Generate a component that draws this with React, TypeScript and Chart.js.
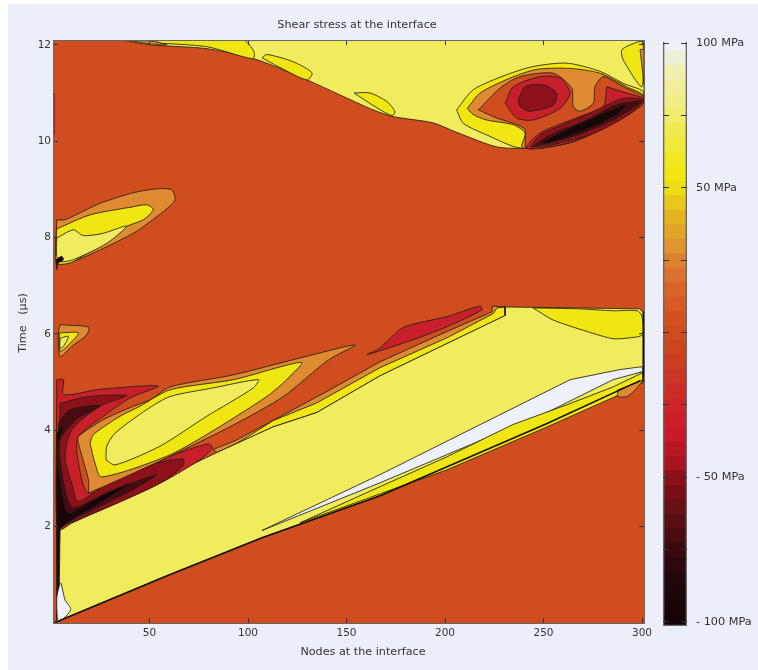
import React, { useEffect, useRef } from "react";
import { Chart, registerables } from "chart.js";

Chart.register(...registerables);

type P = number[];

const xTicks = [50, 100, 150, 200, 250, 300];
const yTicks = [2, 4, 6, 8, 10, 12];
const chartTitle = "Shear stress at the interface";
const xCaption = "Nodes at the interface";
const yCaption = "Time   (µs)";

const FIELD = "#cf4d1f";
const ORANGE = "#df8b32";
const BRIGHT = "#efe612";
const PALE = "#f1ec5e";
const WHITE = "#eef0fa";
const RED = "#c8202a";
const DARKRED = "#8e101b";
const DARKER = "#4a0a12";
const BLACK = "#1a0508";

const fieldRect: P[] = [[1, 0], [301, 0], [301, 12.1], [1, 12.1]];
const bandOrange: P[] = [[82.2, 3.6], [93.4, 3.78], [141.6, 4.84], [167, 5.42], [201, 6.05], [223.9, 6.46], [223.9, 6.58], [230.5, 6.56], [230.5, 6.38], [167, 5.13], [112.7, 4.07], [84.3, 3.54]];
const bandBright: P[] = [[93.4, 3.7], [112.7, 4.2], [135, 4.57], [167, 5.3], [201, 5.92], [224.4, 6.42], [226.4, 6.54], [230.5, 6.56], [230.5, 6.38], [167, 5.13], [135, 4.37], [112.7, 4.07]];
const bandPale: P[] = [[2, 0.01], [58.9, 0.98], [107.1, 1.77], [167, 2.64], [251.8, 4.14], [299, 5.03], [300.5, 5.26], [300.5, 6.44], [299, 6.52], [230.5, 6.56], [230.5, 6.38], [209.1, 5.96], [167, 5.13], [135, 4.37], [112.7, 4.07], [84.3, 3.54], [5.6, 2.0], [3, 1.94], [3, 0.07]];
const bandCorner: P[] = [[244.7, 6.54], [254.8, 6.29], [272.1, 6.05], [285.3, 5.9], [293.9, 5.92], [300, 5.98], [300, 6.36], [297.6, 6.48], [285.3, 6.48], [268.5, 6.52]];
const sliverBright: P[] = [[126.4, 2.08], [167, 2.83], [201, 3.45], [234.5, 4.12], [261.9, 4.53], [285.3, 4.9], [300.5, 5.2], [300.5, 4.99], [285.3, 4.68], [251.8, 4.07], [201, 3.18], [167, 2.68]];
const sliverWhite: P[] = [[107.1, 1.92], [167, 3.08], [263.5, 5.05], [288.8, 5.26], [300, 5.32], [300.5, 5.22], [285.3, 5.05], [251.8, 4.37], [167, 2.91]];
const speckOrange: P[] = [[287.8, 4.84], [297.5, 4.99], [300.5, 5.05], [297.5, 4.88], [292.4, 4.7], [287.8, 4.7]];
const sliverRed: P[] = [[160.4, 5.57], [167, 5.71], [178.7, 6.13], [201, 6.36], [217.8, 6.58], [218.8, 6.5], [201, 6.15], [183.8, 5.88], [167, 5.65]];

const redLeft: P[] = [[2.9, 5.05], [6.3, 5.05], [6.3, 4.74], [24.9, 4.85], [54.5, 4.92], [40.1, 4.67], [26.6, 4.29], [13.9, 3.87], [13.4, 3.46], [19, 2.7], [41.8, 3.11], [60.4, 3.46], [79.9, 3.72], [81.9, 3.63], [75.6, 3.39], [55.3, 2.9], [10.5, 2.07], [5.4, 1.94], [2.9, 1.94]];
const darkRedLeft: P[] = [[4.6, 4.56], [19, 4.7], [38.4, 4.72], [24.9, 4.5], [10.5, 4.01], [7.1, 3.46], [10.5, 2.9], [13.9, 2.52], [29.9, 2.94], [53.6, 3.32], [67.2, 3.4], [66.8, 3.25], [55.3, 2.9], [29.9, 2.42], [8.8, 2.07], [4.2, 2.0]];
const darkerLeft: P[] = [[3.7, 4.15], [9.6, 4.43], [24.9, 4.51], [13, 4.22], [4.6, 3.8], [5.4, 3.18], [8, 2.63], [11.3, 2.39], [29.9, 2.73], [53.6, 3.08], [41.8, 2.77], [24.9, 2.42], [8.8, 2.11], [3.7, 2.0]];
const blackLeft: P[] = [[2.9, 3.94], [6.3, 4.08], [3.7, 3.73], [3.7, 3.25], [6.3, 2.56], [8.8, 2.28], [24.9, 2.63], [40.1, 2.9], [24.9, 2.49], [8, 2.07], [3.2, 1.94]];
const lobeOrange: P[] = [[19, 2.7], [19, 2.97], [13.9, 3.73], [13.9, 3.87], [26.6, 4.22], [41.8, 4.5], [50.3, 4.63], [60.4, 4.9], [92.6, 5.15], [126.4, 5.5], [154.3, 5.77], [140.8, 5.46], [117.9, 4.7], [92.6, 4.11], [60.4, 3.46], [41.8, 3.11], [24.9, 2.8]];
const lobeBright: P[] = [[19.8, 3.73], [21.5, 3.91], [35, 4.29], [45.2, 4.5], [60.4, 4.84], [92.6, 5.05], [127.2, 5.41], [119.6, 5.05], [109.5, 4.7], [79, 3.91], [58.7, 3.46], [25.7, 3.03], [22.3, 3.32]];
const lobePale: P[] = [[27.9, 3.39], [28.3, 3.67], [32.5, 3.94], [48.6, 4.43], [60.4, 4.7], [82.4, 4.88], [105.2, 5.05], [102.7, 4.88], [79, 4.29], [55.3, 3.67], [32.5, 3.28]];
const leftSliver: P[] = [[2.9, 1.94], [4.6, 1.94], [4.2, 0.83], [3.2, 0.07]];
const whiteCorner: P[] = [[3.2, 0.07], [2.9, 0.52], [4.9, 0.83], [7.1, 0.48], [10, 0.28], [4.6, 0.03]];

const smallOrange: P[] = [[4.6, 6.19], [19, 6.14], [18.1, 5.98], [10.5, 5.74], [4.6, 5.53], [3.7, 6.02]];
const smallBright: P[] = [[4.2, 6.02], [13.9, 6.02], [8.8, 5.77], [4.6, 5.64]];
const smallPale: P[] = [[4.6, 5.91], [8.8, 5.95], [6.3, 5.74], [4.6, 5.7]];

const upperOrange: P[] = [[2.9, 8.37], [7.1, 8.37], [24.9, 8.71], [41.8, 8.93], [53.6, 9.01], [61.3, 8.99], [62.9, 8.78], [57, 8.54], [41.8, 8.09], [11.3, 7.5], [2.9, 7.47]];
const upperBright: P[] = [[2.9, 8.18], [19.8, 8.47], [41.8, 8.64], [48.6, 8.68], [51.9, 8.58], [46.9, 8.37], [38.4, 8.23], [11.3, 7.5], [2.9, 7.47]];
const upperPale: P[] = [[2.9, 7.99], [11.3, 8.16], [16.4, 8.04], [26.6, 8.09], [38.4, 8.24], [28.3, 7.88], [11.3, 7.54], [4.6, 7.5], [2.9, 7.61]];
const upperBlack: P[] = [[2.5, 7.54], [5.4, 7.61], [6.3, 7.54], [3.7, 7.47], [2.9, 7.33]];
const leftRedBar: P[] = [[1, 11], [1.9, 11], [1.9, 10.13], [1, 10.13]];

const topPale: P[] = [[36, 12.1], [50.3, 12], [79.2, 11.92], [104.6, 11.69], [130, 11.27], [146.7, 10.96], [163.5, 10.65], [173.6, 10.51], [193.9, 10.38], [206.1, 10.18], [226.4, 9.88], [241.6, 9.86], [265, 9.99], [290.4, 10.51], [301, 10.82], [301, 12.1]];
const topBright1: P[] = [[52.8, 12.04], [79.2, 11.96], [102.5, 11.71], [103, 11.86], [97.5, 12.1], [55.3, 12.1]];
const topOrange: P[] = [[40.1, 12.09], [50.3, 12.08], [58.9, 12], [50.3, 12.02]];
const topBright2: P[] = [[107.1, 11.73], [109.6, 11.8], [122.8, 11.65], [132.5, 11.42], [130, 11.27], [116.2, 11.53]];
const topBright3: P[] = [[153.8, 11], [161.9, 11], [170.6, 10.82], [174.6, 10.61], [173.1, 10.53], [165.5, 10.69]];
const topRightBright: P[] = [[297.5, 12.06], [289.8, 11.9], [290.4, 11.69], [300, 11.13], [300.5, 12.06]];
const topRightOrange: P[] = [[299, 11.9], [301, 11.9], [301, 11.21], [300, 11.55]];

const holeBright: P[] = [[205.9, 10.65], [214.4, 11.07], [231.3, 11.38], [244.8, 11.55], [261.8, 11.62], [278.7, 11.45], [290.5, 11.2], [300.7, 11.03], [300.7, 10.82], [290.5, 10.51], [265.1, 9.99], [241.5, 9.85], [234.7, 9.89], [222.8, 10.1], [209.3, 10.37]];
const holeOrange: P[] = [[211.3, 10.68], [217.8, 11], [233, 11.31], [246.5, 11.49], [263.5, 11.51], [278.7, 11.41], [292.2, 11.13], [300.7, 10.96], [300.7, 10.82], [290.5, 10.51], [265.1, 9.99], [241.5, 9.85], [238.9, 9.89], [240.6, 10.17], [234.7, 10.34], [221.1, 10.44], [214.4, 10.55]];
const holeField: P[] = [[216.9, 10.65], [227.9, 11.1], [238.1, 11.34], [255, 11.41], [264.3, 11.1], [265.1, 10.72], [268.5, 10.62], [275.3, 10.79], [276.1, 11.13], [280.4, 11.34], [290.5, 11.13], [300.7, 10.93], [300.7, 10.82], [290.5, 10.51], [265.1, 9.99], [241.5, 9.85], [240.6, 10.24], [234.7, 10.37], [226.2, 10.48]];
const holeRedCentre: P[] = [[230.5, 10.79], [234.7, 11.13], [248.2, 11.34], [258.4, 11.31], [263.5, 11], [258.4, 10.68], [244.8, 10.44], [236.4, 10.48]];
const holeRedLower: P[] = [[282, 11.13], [292.2, 11], [300.7, 10.89], [301, 10.79], [290.5, 10.48], [265.1, 9.99], [241.5, 9.85], [248.2, 10.17], [268.5, 10.51], [280.4, 10.72]];
const holeDarkCentre: P[] = [[237.2, 10.86], [240.6, 11.13], [249.9, 11.17], [256.7, 11], [255, 10.75], [243.1, 10.62], [238.1, 10.72]];
const holeLobeDark: P[] = [[243.1, 9.88], [248.2, 10.13], [260, 10.34], [278.6, 10.68], [290.5, 10.89], [300.6, 10.85], [290.5, 10.48], [273.6, 10.13], [253.3, 9.92]];
const holeLobeDarker: P[] = [[244.8, 9.9], [253.3, 10.13], [270.2, 10.41], [287.1, 10.76], [299.8, 10.83], [287.1, 10.48], [270.2, 10.17], [253.3, 9.96]];
const holeLobeBlack: P[] = [[248.2, 9.95], [261.7, 10.24], [278.6, 10.55], [292.2, 10.76], [287.1, 10.55], [273.6, 10.27], [260, 10.06], [251.6, 9.96]];

const lowerEdge: P[] = [[2, 0.01], [58.9, 0.98], [107.1, 1.77], [167, 2.64], [251.8, 4.14], [299, 5.03]];
const rightEdge: P[] = [[300.7, 6.46], [300.7, 5.1]];

const cbarLevels = [100, 95, 90, 85, 80, 75, 70, 65, 60, 55, 50, 45, 40, 35, 30, 25, 20, 15, 10, 5, 0, -5, -10, -15, -20, -25, -30, -35, -40, -45, -50, -55, -60, -65, -70, -75, -80, -85, -90, -95, -100];
const cbarColours = ["#f0f2fa", "#eef0d8", "#f0efb0", "#f0ee98", "#f1ed84", "#f0ec6c", "#f0ea50", "#f0e83a", "#f0e820", "#f0e612", "#ecdc10", "#e6c81c", "#e4b420", "#e2a428", "#e09430", "#de8030", "#dc7030", "#da6428", "#d85a24", "#d45020", "#d04c1e", "#cc441e", "#cc3c20", "#cc3424", "#cc2c26", "#cc2428", "#cc1e2a", "#c81a28", "#b81624", "#a8141f", "#8c101a", "#7a0e18", "#681016", "#580e14", "#480c12", "#380a10", "#2c080e", "#22060c", "#1c060a", "#180508", "#160408"];
const cbarTicks = [100, 75, 50, 25, 0, -25, -50, -75, -100];
const cbarLabels: Record<string, string> = { "100": "100 MPa", "50": "50 MPa", "-50": "- 50 MPa", "-100": "- 100 MPa" };
const cbarMin = -101.4;
const cbarMax = 100.35;

const INK = "#333333";
const FONT = "DejaVu Sans";
const W = 758;
const H = 670;

type Layer = [P[], string, boolean?];
const straightLayers = [fieldRect, bandOrange, bandBright, bandPale, sliverBright, sliverWhite, leftRedBar, leftSliver];
const layers: Layer[] = [
  [fieldRect, FIELD, false],
  [bandOrange, ORANGE], [bandBright, BRIGHT], [bandPale, PALE], [bandCorner, BRIGHT],
  [sliverWhite, WHITE], [sliverBright, BRIGHT], [speckOrange, ORANGE], [sliverRed, RED],
  [redLeft, RED], [darkRedLeft, DARKRED], [darkerLeft, DARKER], [blackLeft, BLACK],
  [lobeOrange, ORANGE], [lobeBright, BRIGHT], [lobePale, PALE],
  [leftSliver, BLACK], [whiteCorner, WHITE],
  [smallOrange, ORANGE], [smallBright, BRIGHT], [smallPale, PALE],
  [upperOrange, ORANGE], [upperBright, BRIGHT], [upperPale, PALE], [upperBlack, BLACK], [leftRedBar, DARKRED, false],
  [topPale, PALE], [topBright1, BRIGHT], [topOrange, ORANGE], [topBright2, BRIGHT], [topBright3, BRIGHT],
  [topRightBright, BRIGHT], [topRightOrange, ORANGE],
  [holeBright, BRIGHT], [holeOrange, ORANGE], [holeField, FIELD], [holeRedCentre, RED], [holeRedLower, RED],
  [holeDarkCentre, DARKRED], [holeLobeDark, DARKRED], [holeLobeDarker, DARKER], [holeLobeBlack, BLACK],
];

const toXY = (pts: P[]) => pts.map(([x, y]) => ({ x, y }));

const polygon = ([pts, colour, outlined]: Layer) => ({
  data: toXY([...pts, pts[0]]),
  showLine: true,
  fill: "shape",
  backgroundColor: colour,
  borderColor: outlined === false ? colour : "rgba(35,32,20,0.85)",
  borderWidth: outlined === false ? 0 : 1,
  pointRadius: 0,
  tension: straightLayers.includes(pts) ? 0 : 0.25,
});
const edge = (pts: P[], width: number) => ({
  data: toXY(pts),
  showLine: true,
  fill: false,
  borderColor: "#15140c",
  borderWidth: width,
  pointRadius: 0,
  tension: 0,
});

const inwardGrid = { display: true, drawOnChartArea: false, drawTicks: true, tickLength: -5, color: "#333", z: 1 };
const frame = { display: true, color: "#666", width: 1, z: 1 };
const tickFont = { family: FONT, size: 10.5 };

const captions = {
  id: "captions",
  afterLayout(chart: any) {
    if (chart.titleBlock) {
      chart.titleBlock.left -= 22;
      chart.titleBlock.right -= 22;
    }
  },
  afterDraw(chart: any) {
    const c = chart.ctx;
    c.save();
    c.fillStyle = INK;
    c.font = `11.2px "${FONT}"`;
    c.textAlign = "center";
    c.textBaseline = "middle";
    c.fillText(xCaption, 363, 652);
    c.translate(23, 323);
    c.rotate(-Math.PI / 2);
    c.fillText(yCaption, 0, 0);
    c.restore();
  },
};

export default function App() {
  const mainRef = useRef<HTMLCanvasElement>(null);
  const barRef = useRef<HTMLCanvasElement>(null);

  useEffect(() => {
    const main = new Chart(mainRef.current as any, {
      type: "scatter",
      data: { datasets: [edge(rightEdge, 1), edge(lowerEdge, 1.6), ...layers.map(polygon).reverse()] as any },
      plugins: [captions],
      options: {
        animation: false,
        responsive: false,
        events: [],
        layout: { padding: 0 },
        plugins: {
          legend: { display: false },
          tooltip: { enabled: false },
          title: {
            display: true,
            text: chartTitle,
            color: INK,
            font: { family: FONT, size: 11.2, weight: "normal" },
            padding: { top: 18.5, bottom: 8.06 },
          },
        },
        scales: {
          x: {
            type: "linear", position: "bottom", min: 1, max: 301,
            afterBuildTicks: (s: any) => { s.ticks = xTicks.map((value) => ({ value })); },
            afterFit: (s: any) => { s.height = 47; },
            grid: inwardGrid, border: frame,
            ticks: { color: INK, font: tickFont, padding: 9, maxRotation: 0, autoSkip: false },
          },
          xTop: {
            type: "linear", position: "top", min: 1, max: 301,
            afterBuildTicks: (s: any) => { s.ticks = xTicks.map((value) => ({ value })); },
            afterFit: (s: any) => { s.height = 0; },
            grid: inwardGrid, border: frame,
            ticks: { display: false },
          },
          y: {
            type: "linear", position: "left", min: 0, max: 12.1,
            afterBuildTicks: (s: any) => { s.ticks = yTicks.map((value) => ({ value })); },
            afterFit: (s: any) => { s.width = 53; },
            grid: inwardGrid, border: frame,
            ticks: { color: INK, font: tickFont, padding: 7, autoSkip: false },
          },
          yRight: {
            type: "linear", position: "right", min: 0, max: 12.1,
            afterBuildTicks: (s: any) => { s.ticks = yTicks.map((value) => ({ value })); },
            afterFit: (s: any) => { s.width = 114; },
            grid: inwardGrid, border: frame,
            ticks: { display: false },
          },
        } as any,
      },
    } as any);

    const bar = new Chart(barRef.current as any, {
      type: "bar",
      data: {
        labels: ["scale"],
        datasets: [
          {
            data: [[cbarMin, cbarMax]],
            backgroundColor: "rgba(0,0,0,0)",
            borderColor: "#666",
            borderWidth: 1,
            grouped: false,
            barPercentage: 1,
            categoryPercentage: 1,
          },
          ...cbarLevels.map((level, i) => ({
            data: [[Math.max(level - 2.5, cbarMin), Math.min(level + 2.5, cbarMax)]],
            backgroundColor: cbarColours[i],
            borderWidth: 0,
            grouped: false,
            barPercentage: 1,
            categoryPercentage: 1,
          })),
        ],
      },
      options: {
        animation: false,
        responsive: false,
        events: [],
        layout: { padding: { top: 42, bottom: 44 } },
        plugins: { legend: { display: false }, tooltip: { enabled: false }, title: { display: false } },
        scales: {
          x: { display: false },
          y: {
            position: "left", min: cbarMin, max: cbarMax,
            afterBuildTicks: (s: any) => { s.ticks = cbarTicks.map((value) => ({ value })); },
            afterFit: (s: any) => { s.width = 663; },
            grid: { ...inwardGrid, tickLength: -6 }, border: { display: false },
            ticks: { display: false },
          },
          yZero: {
            position: "right", min: cbarMin, max: cbarMax, weight: 0,
            afterBuildTicks: (s: any) => { s.ticks = [{ value: 0 }]; },
            afterFit: (s: any) => { s.width = 0; },
            grid: { display: false }, border: { display: false },
            ticks: { color: INK, font: { family: FONT, size: 11.3 }, padding: 3, callback: (v: number) => String(v) },
          },
          yLabels: {
            position: "right", min: cbarMin, max: cbarMax, weight: 1,
            afterBuildTicks: (s: any) => { s.ticks = cbarTicks.map((value) => ({ value })); },
            afterFit: (s: any) => { s.width = 71; },
            grid: { ...inwardGrid, tickLength: -6 }, border: { display: false },
            ticks: {
              color: INK, font: { family: FONT, size: 11.3 }, padding: 15, autoSkip: false,
              callback: (v: number) => cbarLabels[String(v)] ?? "",
            },
          },
        } as any,
      },
    } as any);

    return () => {
      main.destroy();
      bar.destroy();
    };
  }, []);

  const layer: React.CSSProperties = { position: "absolute", left: 0, top: 0, display: "block", filter: "blur(0.4px)" };
  return (
    <div style={{ position: "absolute", left: 0, top: 0, width: W, height: H, background: "#ffffff", overflow: "hidden" }}>
      <div style={{ position: "absolute", left: 8, top: 4, right: 0, bottom: 0, background: "#eceffa" }} />
      <canvas ref={mainRef} width={W} height={H} style={layer} />
      <canvas ref={barRef} width={W} height={H} style={layer} />
    </div>
  );
}
